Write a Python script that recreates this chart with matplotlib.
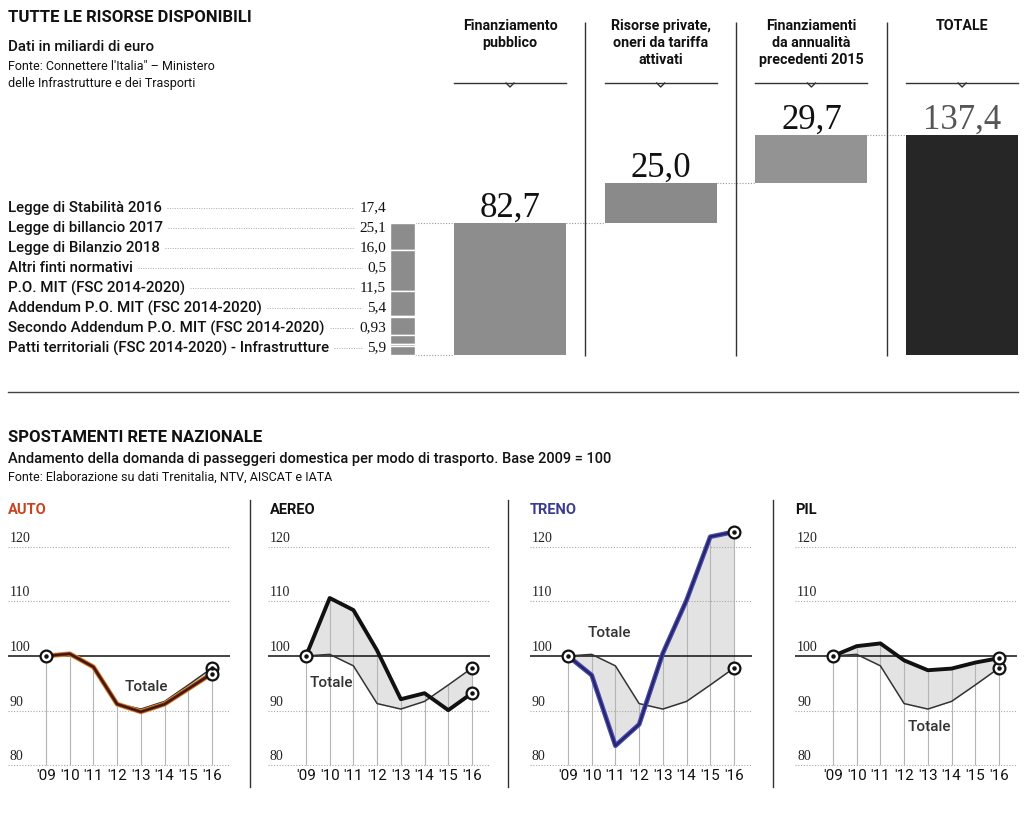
import numpy as np
import matplotlib
matplotlib.use("Agg")
import matplotlib.pyplot as plt
from matplotlib.lines import Line2D

# ---------------- data ----------------
top_categories = ["Finanziamento\npubblico",
                  "Risorse private,\noneri da tariffa\nattivati",
                  "Finanziamenti\nda annualità\nprecedenti 2015",
                  "TOTALE"]
top_values = [82.7, 25.0, 29.7, 137.4]
top_is_total = [False, False, False, True]

legge_labels = ["Legge di Stabilità 2016",
                "Legge di billancio 2017",
                "Legge di Bilanzio 2018",
                "Altri finti normativi",
                "P.O. MIT (FSC 2014-2020)",
                "Addendum P.O. MIT (FSC 2014-2020)",
                "Secondo Addendum P.O. MIT (FSC 2014-2020)",
                "Patti territoriali (FSC 2014-2020) - Infrastrutture"]
legge_values = [17.4, 25.1, 16.0, 0.5, 11.5, 5.4, 0.93, 5.9]

years = [2009, 2010, 2011, 2012, 2013, 2014, 2015, 2016]
year_labels = ["'09", "'10", "'11", "'12", "'13", "'14", "'15", "'16"]
totale = [100, 100.3, 98.2, 91.3, 90.3, 91.7, 94.7, 97.8]
auto = [100, 100.4, 98.0, 91.2, 89.8, 91.2, 94.0, 96.8]
aereo = [100, 110.6, 108.4, 101.0, 92.1, 93.2, 90.1, 93.2]
treno = [100, 96.5, 83.6, 87.5, 100.5, 110.2, 121.8, 122.7]
pil = [100, 101.8, 102.3, 99.2, 97.4, 97.7, 98.8, 99.6]
panel_names = ["AUTO", "AEREO", "TRENO", "PIL"]
panel_series = [auto, aereo, treno, pil]
y_ticks = [80, 90, 100, 110, 120]

# ---------------- style ----------------
SANS = ["Liberation Sans Narrow", "Roboto", "DejaVu Sans"]
SERIF = ["Liberation Serif", "DejaVu Serif"]
plt.rcParams["font.family"] = SANS

W, H = 1024, 822
fig = plt.figure(figsize=(W / 100, H / 100), dpi=100)
fig.patch.set_facecolor("white")


def fx(px):
    return px / W


def fy(py):
    return 1 - py / H


def rect(left, top, width, height):
    return [left / W, 1 - (top + height) / H, width / W, height / H]


def comma(v, fmt=None):
    s = (fmt.format(v) if fmt else str(v))
    return s.replace(".", ",")


# ---------------- top titles ----------------
fig.text(fx(8), fy(18), "TUTTE LE RISORSE DISPONIBILI", fontsize=12,
         fontweight="bold", va="center", ha="left", color="#111")
fig.text(fx(8), fy(47), "Dati in miliardi di euro", fontsize=10.8,
         fontweight=500, va="center", ha="left", color="#111")
fig.text(fx(8), fy(67), "Fonte: Connettere l'Italia\" – Ministero", fontsize=9,
         va="center", ha="left", color="#111")
fig.text(fx(8), fy(84), "delle Infrastrutture e dei Trasporti", fontsize=9,
         va="center", ha="left", color="#111")

# ---------------- top waterfall ----------------
CAT0_PX, PX_PER_CAT = 510.0, 150.7
ZERO_PX, PX_PER_UNIT = 355.0, 1.601


def tx(px):
    return (px - CAT0_PX) / PX_PER_CAT


def ty(py):
    return (ZERO_PX - py) / PX_PER_UNIT


ax = fig.add_axes([0, 0, 1, 1])
ax.set_xlim(tx(0), tx(W))
ax.set_ylim(ty(H), ty(0))
ax.axis("off")

bar_w = 112 / PX_PER_CAT
bottoms = []
running = 0.0
for v, tot in zip(top_values, top_is_total):
    if tot:
        bottoms.append(0.0)
    else:
        bottoms.append(running)
        running += v
xs = np.arange(len(top_values))
bar_colors = ["#8d8d8d", "#8a8a8a", "#939393", "#262626"]
ax.bar(xs, top_values, bottom=bottoms, width=bar_w, color=bar_colors,
       edgecolor="none", zorder=2)

for i, (v, b, tot) in enumerate(zip(top_values, bottoms, top_is_total)):
    ax.text(i, b + v + 6 / PX_PER_UNIT, comma(v, "{:.1f}"), family=SERIF,
            fontsize=25, ha="center", va="baseline",
            color="#555" if tot else "#111", zorder=3)
    # header
    ax.text(i, ty(19), top_categories[i], fontsize=10.3, fontweight="bold",
            ha="center", va="top", linespacing=1.28, color="#111")
    # underline with notch
    yl = ty(83)
    ax.plot([i - bar_w / 2, i + bar_w / 2], [yl, yl], color="#333", lw=1.0)
    nw = 4 / PX_PER_CAT
    ax.plot([i - nw, i, i + nw], [yl, yl - 4 / PX_PER_UNIT, yl],
            color="#333", lw=1.0)

# separators between columns
ax.vlines(xs[:-1] + 0.5, ty(356), ty(22), color="#333", lw=1.0)

# dotted connectors between bar tops/bottoms
for i in range(len(top_values) - 1):
    level = bottoms[i] + top_values[i]
    ax.plot([i + bar_w / 2, i + 1 - bar_w / 2], [level, level],
            ls=(0, (1, 1.5)), color="#999", lw=0.8, zorder=1)

# small stacked bar for public funding breakdown
sb_x = tx(402)
sb_w = 25 / PX_PER_CAT
seg_tops = top_values[0] - np.concatenate([[0], np.cumsum(legge_values)[:-1]])
seg_bottoms = seg_tops - np.array(legge_values)
ax.bar([sb_x] * len(legge_values), legge_values, bottom=seg_bottoms,
       width=sb_w, color="#8c8c8c", edgecolor="white", linewidth=1.0, zorder=2)
for level in [top_values[0], 0.0]:
    ax.plot([sb_x + sb_w / 2, -bar_w / 2], [level, level],
            ls=(0, (1, 1.5)), color="#999", lw=0.8, zorder=1)

label_texts = []
val_texts = []
for k, (lab, v) in enumerate(zip(legge_labels, legge_values)):
    yrow = ty(208 + 20 * k)
    label_texts.append(ax.text(tx(8), yrow, lab, fontsize=10.8, fontweight=500,
                               ha="left", va="center", color="#111"))
    val_texts.append(ax.text(tx(386), yrow, comma(v), family=SERIF,
                             fontsize=11, ha="right", va="center",
                             color="#111"))

fig.canvas.draw()
renderer = fig.canvas.get_renderer()
inv = ax.transData.inverted()
for lt, vt in zip(label_texts, val_texts):
    b1 = lt.get_window_extent(renderer)
    b2 = vt.get_window_extent(renderer)
    x_start = inv.transform((b1.x1 + 5, 0))[0]
    x_end = inv.transform((b2.x0 - 5, 0))[0]
    yrow = lt.get_position()[1]
    ax.plot([x_start, x_end], [yrow, yrow], ls=(0, (1, 1.5)),
            color="#aaa", lw=0.7)

# horizontal rule
ax.plot([tx(8), tx(1018)], [ty(392), ty(392)], color="#444", lw=1.0)

# ---------------- bottom titles ----------------
fig.text(fx(8), fy(437), "SPOSTAMENTI RETE NAZIONALE", fontsize=12,
         fontweight="bold", va="center", ha="left", color="#111")
fig.text(fx(8), fy(459),
         "Andamento della domanda di passeggeri domestica per modo di trasporto. Base 2009 = 100",
         fontsize=10.5, fontweight=500, va="center", ha="left", color="#111")
fig.text(fx(8), fy(477), "Fonte: Elaborazione su dati Trenitalia, NTV, AISCAT e IATA",
         fontsize=9, va="center", ha="left", color="#111")

# ---------------- small multiples ----------------
PPU = 5.47
BASE_PX = 656.0
YMIN, YMAX = 76.0, 125.0
PX_PER_YR = 23.71
panel_left = [8, 268, 530, 795]
title_x = [8, 270, 530, 795]
title_colors = ["#c8431f", "#111", "#3c3c8c", "#111"]
totale_pos = [(2013.22, 94.3), (2010.05, 95.1), (2010.73, 104.2), (2013.05, 87.0)]

top_px = BASE_PX - (YMAX - 100) * PPU
bot_px = BASE_PX + (100 - YMIN) * PPU
for p, (name, ser) in enumerate(zip(panel_names, panel_series)):
    L = panel_left[p]
    pax = fig.add_axes(rect(L, top_px, 222, bot_px - top_px))
    xmin = years[0] - 38 / PX_PER_YR
    xmax = xmin + 222 / PX_PER_YR
    pax.set_xlim(xmin, xmax)
    pax.set_ylim(YMIN, YMAX)
    pax.axis("off")

    for v in y_ticks:
        if v == 100:
            pax.plot([xmin, xmax], [v, v], color="#111", lw=1.1, zorder=3)
        else:
            pax.plot([xmin, xmax], [v, v], ls=(0, (1, 1.5)), color="#aaa",
                     lw=0.8, zorder=1)
        pax.text(xmin + 2 / PX_PER_YR, v + 0.9, str(v), family=SERIF,
                 fontsize=10, ha="left", va="baseline", color="#222")

    ser_a = np.array(ser)
    tot_a = np.array(totale)
    pax.vlines(years, y_ticks[0], np.maximum(ser_a, tot_a), color="#b5b5b5",
               lw=0.8, zorder=1)
    pax.fill_between(years, ser_a, tot_a, color="#e3e3e3", lw=0, zorder=0)
    pax.plot(years, totale, color="#333", lw=1.1, zorder=4)

    if name == "AUTO":
        pax.plot(years, ser, color="#e0a23a", lw=3.6, zorder=5,
                 solid_capstyle="round")
        pax.plot(years, ser, color="#a33522", lw=2.6, zorder=5)
        pax.plot(years, ser, color="#3a1a12", lw=1.5, zorder=5)
    elif name == "TRENO":
        pax.plot(years, ser, color="#4a4ab0", lw=3.4, zorder=5)
        pax.plot(years, ser, color="#25256a", lw=1.6, zorder=5)
    else:
        pax.plot(years, ser, color="#111", lw=2.8, zorder=5)

    mx = [years[0], years[-1], years[-1]]
    my = [ser[0], totale[-1], ser[-1]]
    pax.plot(mx, my, ls="none", marker="o", ms=8.5, mfc="white", mec="#111",
             mew=1.6, zorder=6)
    pax.plot(mx, my, ls="none", marker="o", ms=2.2, color="#111", zorder=7)

    for yr, lab in zip(years, year_labels):
        pax.text(yr, 78.06, lab, fontsize=11, ha="center", va="center",
                 color="#111", clip_on=False)

    tpx, tpy = totale_pos[p]
    pax.text(tpx, tpy, "Totale", fontsize=11, fontweight=500, ha="center",
             va="center", color="#333", zorder=8)

    fig.text(fx(title_x[p]), fy(510), name, fontsize=10.5, fontweight="bold",
             ha="left", va="center", color=title_colors[p])

for sx in [250, 508, 773]:
    fig.add_artist(Line2D([fx(sx), fx(sx)], [fy(500), fy(787)],
                          color="#333", lw=1.0))

fig.savefig("out.png", dpi=100, facecolor="white")
